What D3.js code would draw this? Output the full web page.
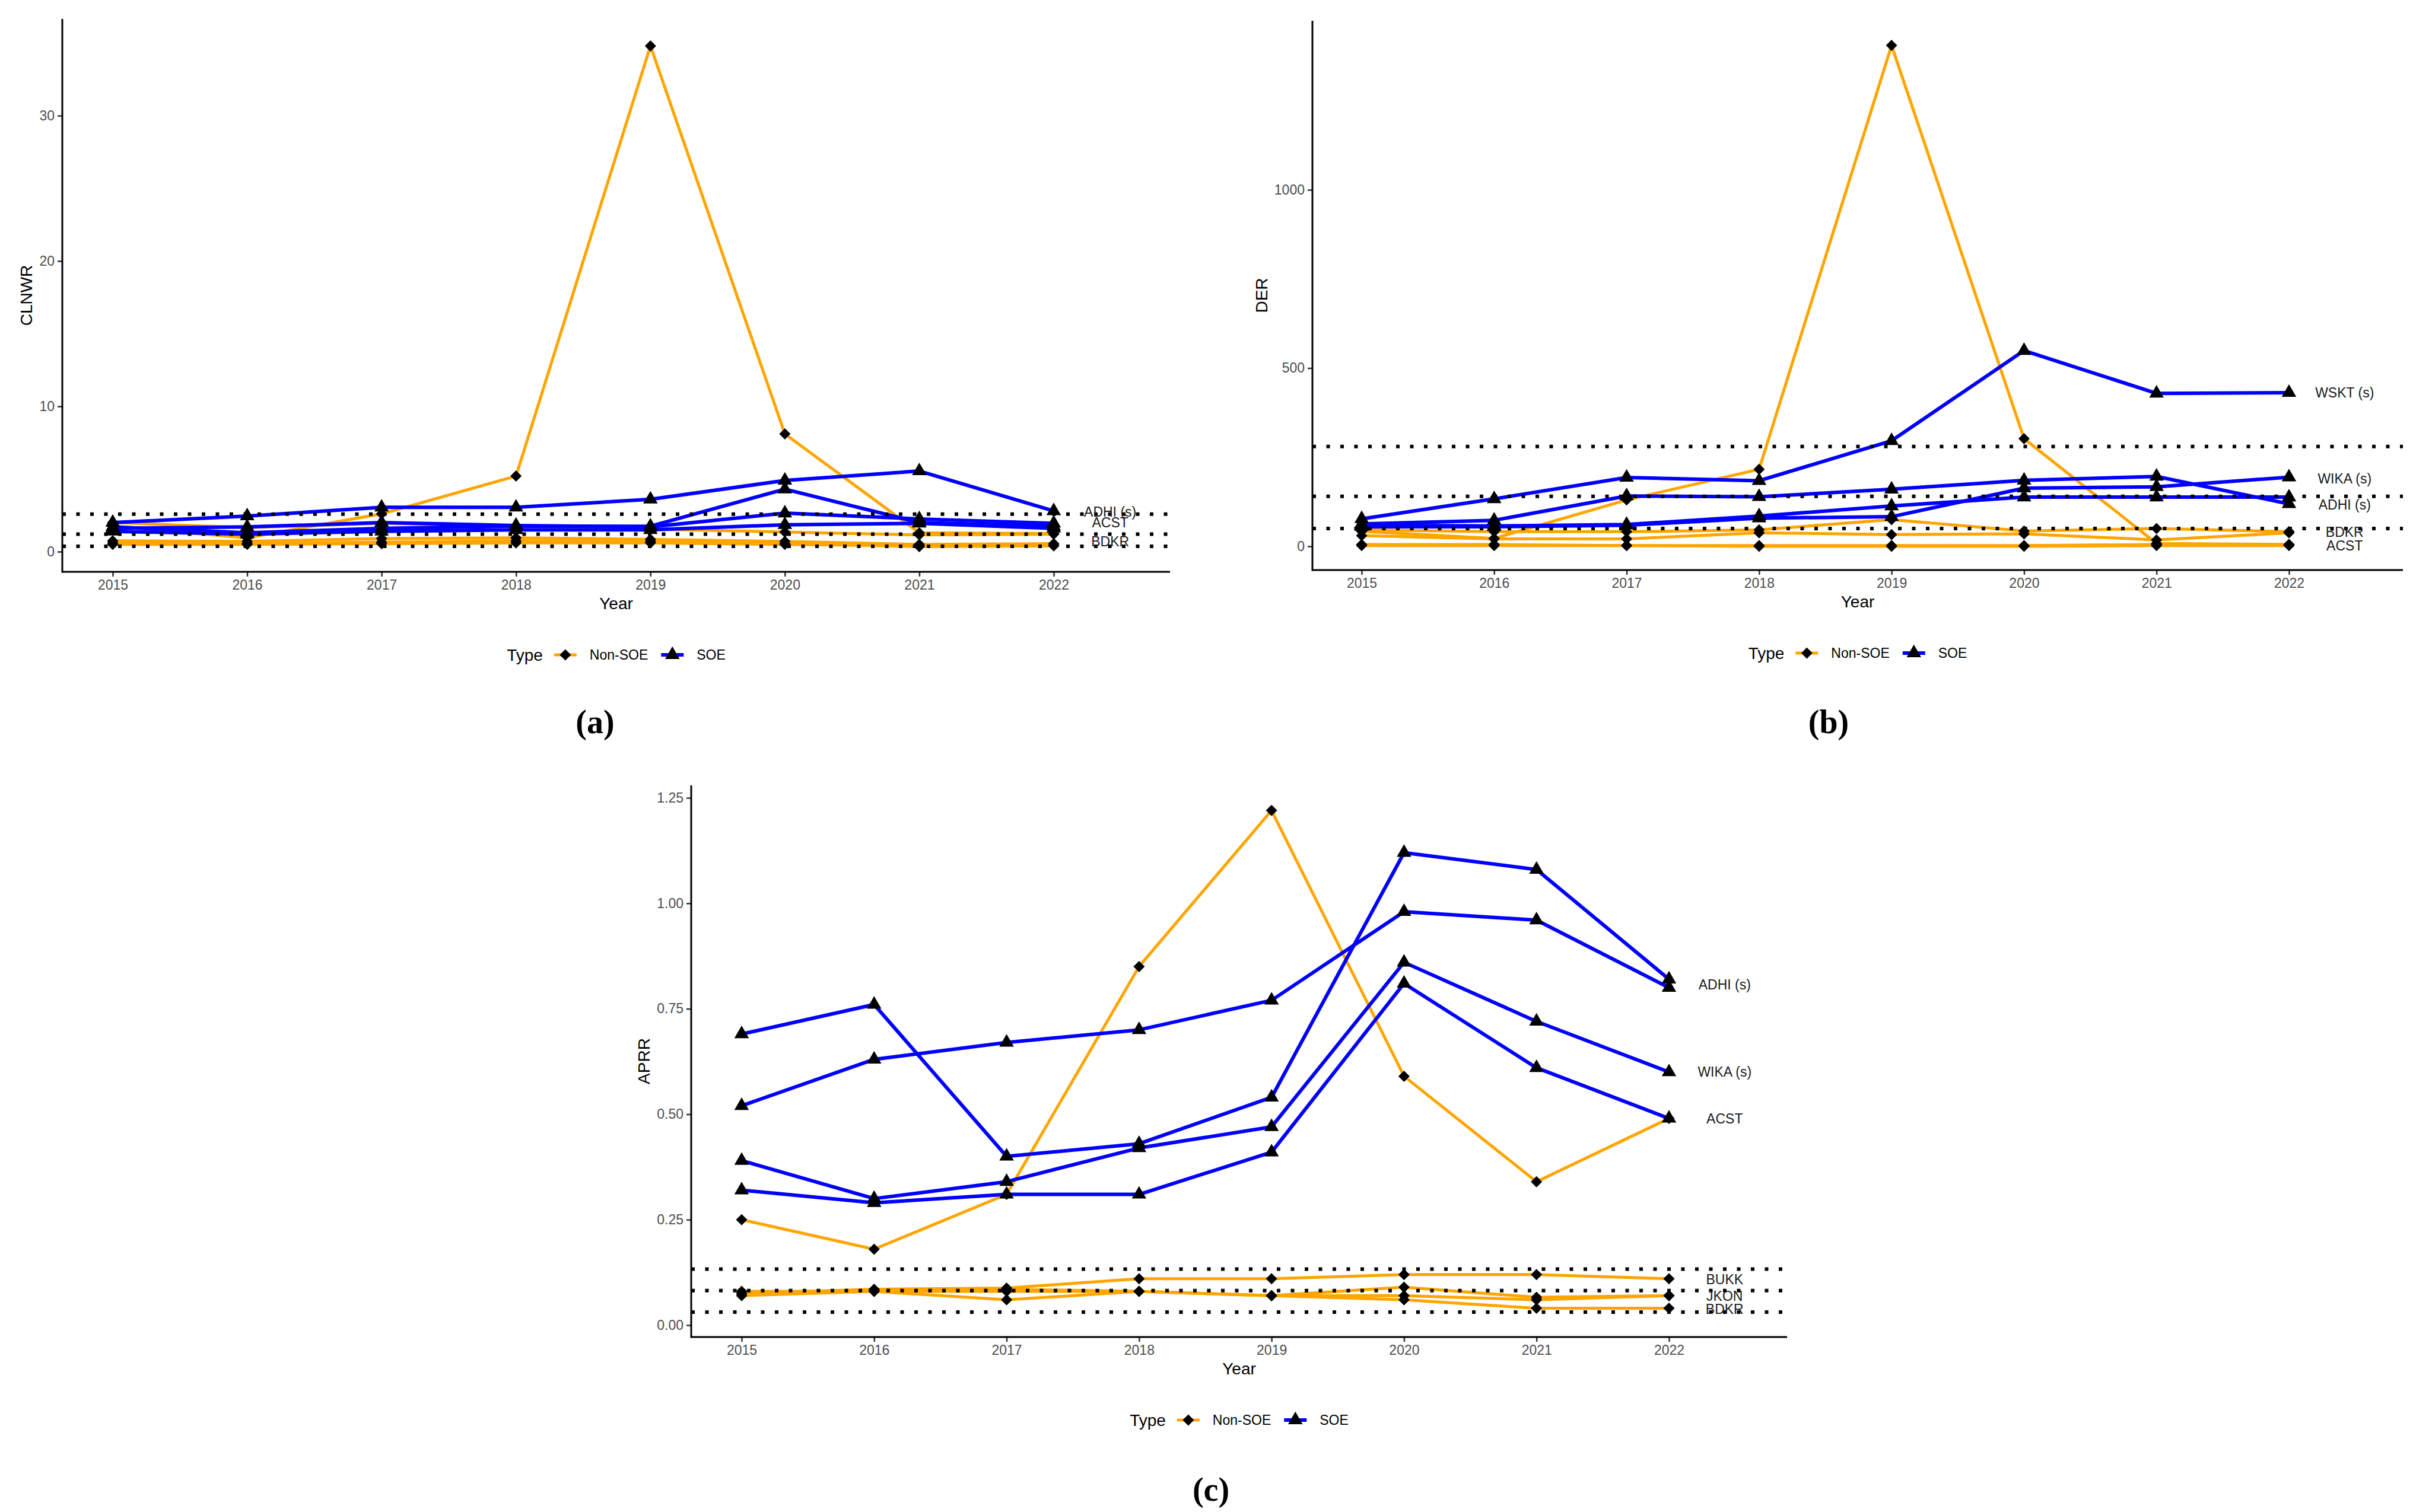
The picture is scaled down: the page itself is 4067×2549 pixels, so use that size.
<!DOCTYPE html>
<html>
<head>
<meta charset="utf-8">
<script src="https://cdn.jsdelivr.net/npm/d3@7"></script>
<style>body { margin: 0; background: #fff; }</style>
</head>
<body>
<script>
// years on the x axis
const years = [2015, 2016, 2017, 2018, 2019, 2020, 2021, 2022];
const soeNames = ["ADHI", "WIKA", "WSKT", "PTPP"];
const nonSoeNames = ["ACST", "BDKR", "JKON", "BUKK", "NRCA"];
const typeLabels = ["Non-SOE", "SOE"];

// (a) CLNWR
const clnwrSoe = [
  [2.0, 2.45, 3.05, 3.05, 3.6, 4.9, 5.55, 2.8],
  [1.7, 1.3, 1.6, 1.75, 1.75, 4.3, 2.0, 1.75],
  [1.6, 1.7, 2.0, 1.8, 1.7, 2.65, 2.25, 1.95],
  [1.4, 1.2, 1.4, 1.5, 1.5, 1.85, 1.95, 1.6]
];
const clnwrNonSoe = [
  [1.75, 0.95, 2.6, 5.2, 34.8, 8.1, 1.3, 1.25],
  [2.0, 1.65, 1.95, 1.75, 1.55, 1.35, 1.15, 1.2],
  [0.75, 0.7, 0.9, 0.95, 0.85, 0.7, 0.5, 0.55],
  [0.6, 0.55, 0.65, 0.75, 0.7, 0.55, 0.35, 0.4],
  [0.5, 0.5, 0.55, 0.6, 0.6, 0.5, 0.4, 0.45]
];
const clnwrRefLines = [2.58, 1.2, 0.37];
const clnwrLabels = ["ADHI (s)", "ACST", "BDKR"];
const clnwrLabelAt = [2.75, 2.0, 0.69];
const clnwrTicks = [0, 10, 20, 30];

// (b) DER
const derSoe = [
  [63, 73, 141, 139, 160, 185, 196, 119],
  [55, 55, 59, 79, 83, 163, 167, 194],
  [77, 133, 193, 184, 296, 549, 429, 431],
  [59, 57, 61, 85, 113, 138, 138, 138]
];
const derNonSoe = [
  [42, 22, 130, 216, 1405, 302, 8, 5],
  [46, 41, 41, 46, 75, 43, 50, 41],
  [30, 21, 21, 38, 33, 35, 18, 38],
  [5, 5, 2, 2, 2, 2, 5, 5],
  [2, 2, 2, 0, 0, 0, 2, 2]
];
const derRefLines = [280, 140, 50];
const derLabels = ["WSKT (s)", "WIKA (s)", "ADHI (s)", "BDKR", "ACST"];
const derLabelAt = [431, 190, 117, 40, 2];
const derTicks = [0, 500, 1000];

// (c) APRR
const aprrSoe = [
  [0.69, 0.76, 0.40, 0.43, 0.54, 1.12, 1.08, 0.82],
  [0.39, 0.30, 0.34, 0.42, 0.47, 0.86, 0.72, 0.60],
  [0.52, 0.63, 0.67, 0.70, 0.77, 0.98, 0.96, 0.80],
  [0.32, 0.29, 0.31, 0.31, 0.41, 0.81, 0.61, 0.49]
];
const aprrNonSoe = [
  [0.25, 0.18, 0.31, 0.85, 1.22, 0.59, 0.34, 0.49],
  [0.08, 0.08, 0.06, 0.08, 0.07, 0.06, 0.04, 0.04],
  [0.07, 0.08, 0.08, 0.08, 0.07, 0.09, 0.066, 0.07],
  [0.075, 0.085, 0.088, 0.11, 0.11, 0.12, 0.12, 0.11],
  [0.075, 0.083, 0.085, 0.08, 0.07, 0.07, 0.06, 0.07]
];
const aprrRefLines = [0.133, 0.082, 0.031];
const aprrLabels = ["ADHI (s)", "WIKA (s)", "ACST", "BUKK", "JKON", "BDKR"];
const aprrLabelAt = [0.807, 0.6, 0.49, 0.109, 0.069, 0.038];
const aprrTicks = [0, 0.25, 0.5, 0.75, 1.0, 1.25];

const W = 4067, H = 2549;
const ORANGE = "#FFA500", BLUE = "#0000FF";
const FONT = "'Liberation Sans', Arial, sans-serif";

const svg = d3.select('body').append('svg')
    .attr('width', W)
    .attr('height', H)
    .style('display', 'block');
svg.append('rect').attr('width', W).attr('height', H).attr('fill', '#fff');

const diamond = r => `M0,${-r}L${r},0L0,${r}L${-r},0Z`;
const triangle = d3.symbol().type(d3.symbolTriangle).size(260);

const panels = [
  { tag: "(a)", title: "CLNWR", soe: clnwrSoe, non: clnwrNonSoe, refs: clnwrRefLines,
    labels: clnwrLabels, labelAt: clnwrLabelAt, ticks: clnwrTicks, fmt: d3.format('d'),
    box: { l: 105, r: 1972, t: 32, b: 964 }, xr: [190, 1776], yd: [0, 30], yr: [930, 195],
    tagX: 1003, tagY: 1236 },
  { tag: "(b)", title: "DER", soe: derSoe, non: derNonSoe, refs: derRefLines,
    labels: derLabels, labelAt: derLabelAt, ticks: derTicks, fmt: d3.format('d'),
    box: { l: 2212, r: 4050, t: 35, b: 961 }, xr: [2295, 3858], yd: [0, 1000], yr: [921, 320],
    tagX: 3082, tagY: 1236 },
  { tag: "(c)", title: "APRR", soe: aprrSoe, non: aprrNonSoe, refs: aprrRefLines,
    labels: aprrLabels, labelAt: aprrLabelAt, ticks: aprrTicks, fmt: d3.format('.2f'),
    box: { l: 1165, r: 3012, t: 1324, b: 2254 }, xr: [1250, 2813], yd: [0, 1.25], yr: [2234, 1345],
    tagX: 2041, tagY: 2530 }
];

function drawPanel(p) {
  const g = svg.append('g');
  const x = d3.scaleLinear().domain([2015, 2022]).range(p.xr);
  const y = d3.scaleLinear().domain(p.yd).range(p.yr);
  const line = d3.line().x((d, i) => x(years[i])).y(d => y(d));

  // series lines
  g.append('g').selectAll('path')
    .data(p.non).join('path')
    .attr('d', line)
    .attr('fill', 'none')
    .attr('stroke', ORANGE)
    .attr('stroke-width', 5)
    .attr('stroke-linejoin', 'round');
  g.append('g').selectAll('path')
    .data(p.soe).join('path')
    .attr('d', line)
    .attr('fill', 'none')
    .attr('stroke', BLUE)
    .attr('stroke-width', 6)
    .attr('stroke-linejoin', 'round');

  // dotted reference lines
  g.append('g').selectAll('line')
    .data(p.refs).join('line')
    .attr('x1', p.box.l).attr('x2', p.box.r)
    .attr('y1', d => y(d)).attr('y2', d => y(d))
    .attr('stroke', '#000')
    .attr('stroke-width', 6)
    .attr('stroke-dasharray', '6 17.5');

  // points
  const pts = (arr) => arr.flatMap(s => s.map((v, i) => [years[i], v]));
  g.append('g').selectAll('path')
    .data(pts(p.non)).join('path')
    .attr('d', diamond(9.5))
    .attr('transform', d => `translate(${x(d[0])},${y(d[1])})`)
    .attr('fill', '#000');
  g.append('g').selectAll('path')
    .data(pts(p.soe)).join('path')
    .attr('d', triangle)
    .attr('transform', d => `translate(${x(d[0])},${y(d[1])})`)
    .attr('fill', '#000');

  // end labels
  g.append('g').selectAll('text')
    .data(p.labels).join('text')
    .attr('x', x(2022.42))
    .attr('y', (d, i) => y(p.labelAt[i]))
    .attr('dy', '0.35em')
    .attr('text-anchor', 'middle')
    .attr('font-family', FONT)
    .attr('font-size', 23)
    .attr('fill', '#1a1a1a')
    .text(d => d);

  // axes
  const gx = g.append('g')
    .attr('transform', `translate(0,${p.box.b})`)
    .call(d3.axisBottom(x).tickValues(years).tickFormat(d3.format('d')).tickSize(8).tickPadding(6));
  const gy = g.append('g')
    .attr('transform', `translate(${p.box.l},0)`)
    .call(d3.axisLeft(y).tickValues(p.ticks).tickFormat(p.fmt).tickSize(8).tickPadding(5));
  [gx, gy].forEach(a => {
    a.select('.domain').remove();
    a.selectAll('.tick line').attr('stroke', '#333').attr('stroke-width', 2.5);
    a.selectAll('.tick text')
      .attr('font-family', FONT)
      .attr('font-size', 23)
      .attr('fill', '#4d4d4d');
  });

  g.append('line')
    .attr('x1', p.box.l).attr('x2', p.box.r)
    .attr('y1', p.box.b).attr('y2', p.box.b)
    .attr('stroke', '#000').attr('stroke-width', 3);
  g.append('line')
    .attr('x1', p.box.l).attr('x2', p.box.l)
    .attr('y1', p.box.b + 1.5).attr('y2', p.box.t)
    .attr('stroke', '#000').attr('stroke-width', 3);

  // axis titles
  const cx = (p.box.l + p.box.r) / 2;
  g.append('text')
    .attr('x', cx).attr('y', p.box.b + 63)
    .attr('text-anchor', 'middle')
    .attr('font-family', FONT).attr('font-size', 28)
    .text('Year');
  let maxW = 0;
  gy.selectAll('.tick text').each(function () { maxW = Math.max(maxW, this.getBBox().width); });
  const ty = (p.box.t + p.box.b) / 2;
  const tx = p.box.l - 13 - maxW - 22;
  g.append('text')
    .attr('transform', `translate(${tx},${ty}) rotate(-90)`)
    .attr('dy', '0.35em')
    .attr('text-anchor', 'middle')
    .attr('font-family', FONT).attr('font-size', 28)
    .text(p.title);

  // legend
  const lg = g.append('g');
  let cur = 0;
  const ly = 0;
  const tt = lg.append('text').attr('x', cur).attr('y', ly).attr('dy', '0.35em')
    .attr('font-family', FONT).attr('font-size', 28).text('Type');
  cur += tt.node().getComputedTextLength() + 19;
  typeLabels.forEach((lab, i) => {
    const col = i === 0 ? ORANGE : BLUE;
    lg.append('line').attr('x1', cur).attr('x2', cur + 38).attr('y1', ly).attr('y2', ly)
      .attr('stroke', col).attr('stroke-width', i === 0 ? 5 : 6);
    lg.append('path')
      .attr('d', i === 0 ? diamond(9.5) : triangle)
      .attr('transform', `translate(${cur + 19},${ly})`)
      .attr('fill', '#000');
    cur += 38 + 22;
    const t = lg.append('text').attr('x', cur).attr('y', ly).attr('dy', '0.35em')
      .attr('font-family', FONT).attr('font-size', 23).text(lab);
    cur += t.node().getComputedTextLength() + 22;
  });
  cur -= 22;
  lg.attr('transform', `translate(${cx - cur / 2},${p.box.b + 140})`);

  // sub-figure tag
  svg.append('text')
    .attr('x', p.tagX).attr('y', p.tagY)
    .attr('text-anchor', 'middle')
    .attr('font-family', "'Liberation Serif', 'DejaVu Serif', serif")
    .attr('font-weight', 'bold')
    .attr('font-size', 56)
    .text(p.tag);
}

panels.forEach(drawPanel);
</script>
</body>
</html>
